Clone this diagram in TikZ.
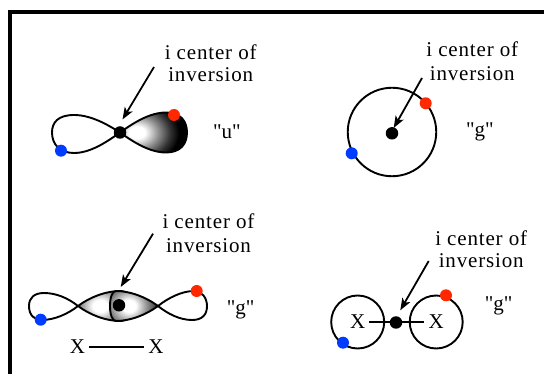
\documentclass[tikz,border=0pt]{standalone}
\usepackage{fontspec}
\setmainfont[Ligatures=TeXOff]{Liberation Serif}
\newfontfamily\notefont[LetterSpace=4]{Liberation Serif}
\usetikzlibrary{arrows.meta}
\definecolor{dotred}{RGB}{255,40,0}
\definecolor{dotblue}{RGB}{0,60,255}
% soft highlight used inside the shaded lobes (25bp = edge of the shaded ellipse)
\pgfdeclareradialshading{glow}{\pgfpoint{0bp}{0bp}}{%
  color(0bp)=(white); color(4bp)=(white); color(10bp)=(black!40);
  color(16.5bp)=(black!80); color(21bp)=(black); color(50bp)=(black)}
\begin{document}
\begin{tikzpicture}[x=1pt,y=-1pt,
  every node/.style={inner sep=0pt},
  frame/.style={line width=3.2pt, line join=miter},
  outline/.style={line width=1.9pt, line join=round},
  glowlobe/.style n args={4}{outline, path picture={
      \fill[black] (path picture bounding box.south west)
        rectangle (path picture bounding box.north east);
      \shade[shading=glow] (#1,#2) ellipse [x radius=#3pt, y radius=#4pt];}},
  openloop/.style={outline, fill=white},
  ring/.style={circle, draw, line width=1.9pt, minimum size=#1},
  bondline/.style={line width=1.9pt, shorten <=4pt, shorten >=4pt},
  centerdot/.style={circle, fill=black, minimum size=12.5pt},
  reddot/.style={circle, fill=dotred, minimum size=12pt},
  bluedot/.style={circle, fill=dotblue, minimum size=12pt},
  notetext/.style={font=\notefont\fontsize{21pt}{22pt}\selectfont, anchor=base},
  symtag/.style={font=\fontsize{21pt}{22pt}\selectfont, anchor=base},
  pointer/.style={line width=1.8pt, -{Stealth[length=12pt,width=9pt,inset=3pt]}}]
\useasboundingbox (0,0) rectangle (544,374);
\fill[white] (0,0) rectangle (544,374);

% frame (top and left edges)
\draw[frame] (10,380) -- (10,12) -- (550,12);

% ---------- p orbital: "u" ----------
\begin{scope}[shift={(120,132.5)}]
  \draw[openloop] (0,0) .. controls (-14,-9) and (-30,-17.5) .. (-46,-17.5)
    .. controls (-62,-17.5) and (-68,-10) .. (-68,0)
    .. controls (-68,12) and (-60,20.5) .. (-46,20.5)
    .. controls (-30,20.5) and (-14,10) .. (0,0) -- cycle;
  \draw[glowlobe={17}{0}{50}{38}] (0,0) .. controls (14,-10) and (30,-20) .. (46,-20)
    .. controls (60,-20) and (67,-12) .. (67,0)
    .. controls (67,12) and (60,20) .. (46,20)
    .. controls (30,20) and (14,10) .. (0,0) -- cycle;
\end{scope}
\node[centerdot] (d1) at (120,132.5) {};
\node[reddot] (r1) at (174,115) {};
\node[bluedot] (b1) at (61,150.7) {};
\node[notetext] (n1a) at (210.7,60) {i center of};
\node[notetext] (n1b) at (210.7,81.7) {inversion};
\node[symtag] (u1) at (227,138.5) {"u"};
\coordinate (s1) at (154,67);
\coordinate (t1) at (122.5,119.5);
\draw[pointer] (s1) -- (t1);

% ---------- s orbital: "g" ----------
\node[ring=88.5pt] (o2) at (392,132) {};
\node[centerdot] (d2) at (392,133.3) {};
\node[reddot] (r2) at (425.7,103.3) {};
\node[bluedot] (b2) at (351.7,153.3) {};
\node[notetext] (n2a) at (472.3,56.7) {i center of};
\node[notetext] (n2b) at (472.3,80.2) {inversion};
\node[symtag] (g2) at (480,136.5) {"g"};
\coordinate (s2) at (422,78);
\coordinate (t2) at (393.7,128);
\draw[pointer] (s2) -- (t2);

% ---------- sigma bond from p orbitals: "g" ----------
\begin{scope}[shift={(78,306)}]
  \draw[openloop] (0,0) .. controls (-10,-8) and (-22,-13) .. (-34,-13)
    .. controls (-44,-13) and (-49,-8) .. (-49,0)
    .. controls (-49,9) and (-44,14) .. (-36,14)
    .. controls (-24,14) and (-10,8) .. (0,0) -- cycle;
  \draw[glowlobe={22}{0}{46}{38}] (0,0) .. controls (12,-9) and (28,-15) .. (42,-15)
    .. controls (50,-15) and (56,-8) .. (56,0)
    .. controls (56,8) and (50,15) .. (42,15)
    .. controls (28,15) and (12,9) .. (0,0) -- cycle;
\end{scope}
\begin{scope}[shift={(158,306)}]
  \draw[glowlobe={-29}{0}{42}{38}] (0,0) .. controls (-12,-9) and (-28,-15) .. (-42,-15)
    .. controls (-46,-15) and (-48,-8) .. (-48,0)
    .. controls (-48,8) and (-46,15) .. (-42,15)
    .. controls (-28,15) and (-12,9) .. (0,0) -- cycle;
  \draw[openloop] (0,0) .. controls (10,-8) and (24,-15) .. (36,-15)
    .. controls (44,-15) and (49,-8) .. (49,0)
    .. controls (49,9) and (44,14) .. (34,14)
    .. controls (22,14) and (10,8) .. (0,0) -- cycle;
\end{scope}
\node[centerdot] (d3) at (119,305.3) {};
\node[reddot] (r3) at (196.7,291) {};
\node[bluedot] (b3) at (40.7,319.7) {};
\node[symtag] (x3l) at (77.5,353.7) {X};
\node[symtag] (x3r) at (156,353.7) {X};
\draw[bondline] (x3l.east) -- (x3r.west);
\node[notetext] (n3a) at (208.5,228.7) {i center of};
\node[notetext] (n3b) at (208.5,252.5) {inversion};
\node[symtag] (g3) at (240.7,315) {"g"};
\coordinate (s3) at (153,233.7);
\coordinate (t3) at (120.7,287);
\draw[pointer] (s3) -- (t3);

% ---------- sigma bond from s orbitals: "g" ----------
\node[ring=53pt] (o4l) at (357.7,322) {};
\node[ring=53pt] (o4r) at (436.2,322) {};
\node[symtag, anchor=center] (x4l) at (o4l.center) {X};
\node[symtag, anchor=center] (x4r) at (o4r.center) {X};
\draw[bondline] (x4l.east) -- (x4r.west);
\node[centerdot] (d4) at (396,322.5) {};
\node[reddot] (r4) at (446,295.3) {};
\node[bluedot] (b4) at (343,342.7) {};
\node[notetext] (n4a) at (481.2,245.3) {i center of};
\node[notetext] (n4b) at (481.2,267.4) {inversion};
\node[symtag] (g4) at (498.7,311) {"g"};
\coordinate (s4) at (428.7,261);
\coordinate (t4) at (400.3,310.3);
\draw[pointer] (s4) -- (t4);
\end{tikzpicture}
\end{document}
